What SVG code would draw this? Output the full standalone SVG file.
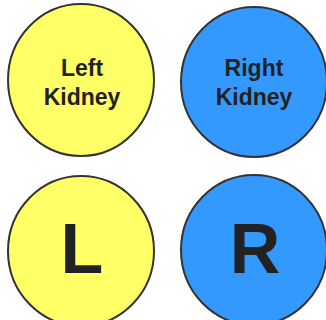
<svg xmlns="http://www.w3.org/2000/svg" width="326" height="320" viewBox="0 0 326 320">
<style>
.y{fill:#FFFF66;stroke:#333;stroke-width:2}
.b{fill:#3399FF;stroke:#333;stroke-width:2}
.t{font-family:"Liberation Sans",Arial,sans-serif;font-weight:bold;fill:#222;text-anchor:middle}
.s{font-size:23px}
.l{font-size:70px}
</style>
<rect width="326" height="320" fill="#fff"/>
<g id="left-kidney">
<ellipse class="y" cx="81" cy="80" rx="73" ry="76"/>
<text class="t s" x="82" y="76">Left</text>
<text class="t s" x="82" y="105">Kidney</text>
</g>
<g id="right-kidney">
<ellipse class="b" cx="254" cy="82" rx="73" ry="75"/>
<text class="t s" x="254" y="76">Right</text>
<text class="t s" x="254" y="105">Kidney</text>
</g>
<g id="L">
<ellipse class="y" cx="81" cy="251" rx="73" ry="75"/>
<text class="t l" x="82" y="273">L</text>
</g>
<g id="R">
<ellipse class="b" cx="254" cy="250" rx="73" ry="75"/>
<text class="t l" x="255" y="273">R</text>
</g>
<g id="connectors"/>
</svg>
